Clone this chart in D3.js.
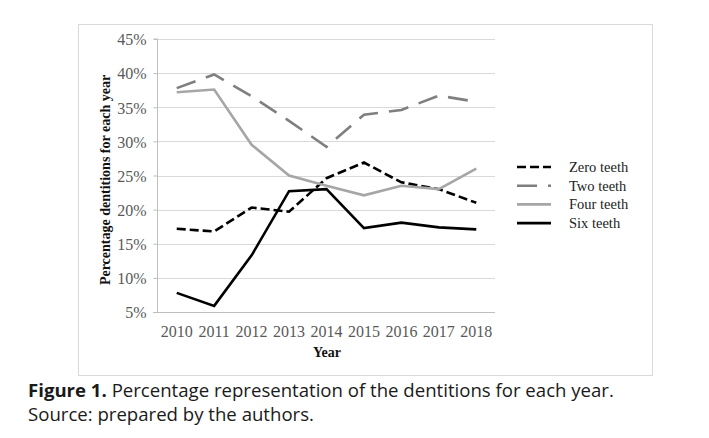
<!DOCTYPE html>
<html>
<head>
<meta charset="utf-8">
<script src="https://cdn.jsdelivr.net/npm/d3@7"></script>
<style>
  body { margin: 0; background: #fff; }
  svg { display: block; }
  .grid line { stroke: #d9d9d9; stroke-width: 1; }
  .tick-label { font-family: "Liberation Serif", "Times New Roman", serif; font-size: 16px; fill: #595959; }
  .axis-title { font-family: "Liberation Serif", "Times New Roman", serif; font-size: 14px; font-weight: bold; fill: #111; }
  .legend-label { font-family: "Liberation Serif", "Times New Roman", serif; font-size: 14.5px; fill: #222; }
  .caption { font-family: "Open Sans", sans-serif; font-size: 18.6px; fill: #1a1a1a; }
</style>
</head>
<body>
<svg id="chart" width="709" height="438"></svg>
<script>
// values (share of dentitions, %)
var years = ['2010', '2011', '2012', '2013', '2014', '2015', '2016', '2017', '2018'];
var zeroTeeth = [17.2, 16.8, 20.3, 19.7, 24.6, 26.9, 24.0, 23.0, 21.0];
var twoTeeth = [37.8, 39.8, 36.6, 33.0, 29.2, 33.9, 34.6, 36.7, 35.8];
var fourTeeth = [37.2, 37.6, 29.5, 25.0, 23.5, 22.1, 23.5, 23.0, 26.0];
var sixTeeth = [7.8, 5.9, 13.3, 22.7, 23.0, 17.3, 18.1, 17.4, 17.1];
var seriesNames = ['Zero teeth', 'Two teeth', 'Four teeth', 'Six teeth'];
var yTicks = [5, 10, 15, 20, 25, 30, 35, 40, 45];

var series = [
    { name: seriesNames[0], values: zeroTeeth, color: '#000', dash: '9,4' },
    { name: seriesNames[1], values: twoTeeth, color: '#7f7f7f', dash: '20,11' },
    { name: seriesNames[2], values: fourTeeth, color: '#a6a6a6', dash: null },
    { name: seriesNames[3], values: sixTeeth, color: '#000', dash: null }
];

var svg = d3.select('#chart');

// chart frame
svg.append('rect')
    .attr('x', 78.5).attr('y', 24.5)
    .attr('width', 574).attr('height', 351)
    .attr('fill', '#fff')
    .attr('stroke', '#d9d9d9');

var x = d3.scalePoint().domain(years).range([158, 495]).padding(0.5);
var y = d3.scaleLinear().domain([5, 45]).range([312, 39]);

// horizontal gridlines
var grid = svg.append('g').attr('class', 'grid');
grid.selectAll('line')
    .data(yTicks.slice(1))
    .enter()
    .append('line')
    .attr('x1', 157).attr('x2', 495)
    .attr('y1', function (d) { return Math.round(y(d)) + 0.5; })
    .attr('y2', function (d) { return Math.round(y(d)) + 0.5; });

// y axis with tick marks
var yAxis = svg.append('g')
    .attr('transform', 'translate(157.5,0)')
    .call(d3.axisLeft(y).tickValues(yTicks).tickSize(4).tickFormat(function (d) { return d + '%'; }));
yAxis.select('.domain').attr('stroke', '#bfbfbf').attr('d', 'M-4,' + y(45) + 'H0V' + y(5));
yAxis.selectAll('.tick line').attr('stroke', '#bfbfbf');
yAxis.selectAll('.tick text')
    .attr('class', 'tick-label')
    .attr('x', -11)
    .attr('dy', '0.36em');

// x axis baseline and labels
svg.append('line')
    .attr('x1', 153).attr('x2', 495)
    .attr('y1', Math.round(y(5)) + 0.5).attr('y2', Math.round(y(5)) + 0.5)
    .attr('stroke', '#bfbfbf');

svg.append('g').selectAll('text')
    .data(years)
    .enter()
    .append('text')
    .attr('class', 'tick-label')
    .attr('x', function (d) { return x(d); })
    .attr('y', 337)
    .attr('text-anchor', 'middle')
    .text(function (d) { return d; });

svg.append('text')
    .attr('class', 'axis-title')
    .attr('x', 327).attr('y', 357)
    .attr('text-anchor', 'middle')
    .text('Year');

svg.append('text')
    .attr('class', 'axis-title')
    .attr('transform', 'translate(110,180) rotate(-90)')
    .attr('text-anchor', 'middle')
    .text('Percentage dentitions for each year');

// series lines
var line = d3.line()
    .x(function (d, i) { return x(years[i]); })
    .y(function (d) { return y(d); });

svg.append('g').selectAll('path')
    .data(series)
    .enter()
    .append('path')
    .attr('d', function (d) { return line(d.values); })
    .attr('fill', 'none')
    .attr('stroke', function (d) { return d.color; })
    .attr('stroke-width', 2.6)
    .attr('stroke-dasharray', function (d) { return d.dash; });

// legend
var legend = svg.append('g').selectAll('g')
    .data(series)
    .enter()
    .append('g')
    .attr('transform', function (d, i) { return 'translate(517,' + (167 + i * 18.7) + ')'; });

legend.append('line')
    .attr('x1', 0).attr('x2', 34)
    .attr('stroke', function (d) { return d.color; })
    .attr('stroke-width', 2.6)
    .attr('stroke-dasharray', function (d) { return d.dash; });

legend.append('text')
    .attr('class', 'legend-label')
    .attr('x', 52)
    .attr('dy', '0.35em')
    .text(function (d) { return d.name; });

// caption
var cap = svg.append('text').attr('class', 'caption').attr('x', 28).attr('y', 397);
cap.append('tspan').attr('font-weight', 'bold').text('Figure 1.');
cap.append('tspan').text(' Percentage representation of the dentitions for each year.');

svg.append('text').attr('class', 'caption').attr('x', 28).attr('y', 421)
    .text('Source: prepared by the authors.');
</script>
</body>
</html>
